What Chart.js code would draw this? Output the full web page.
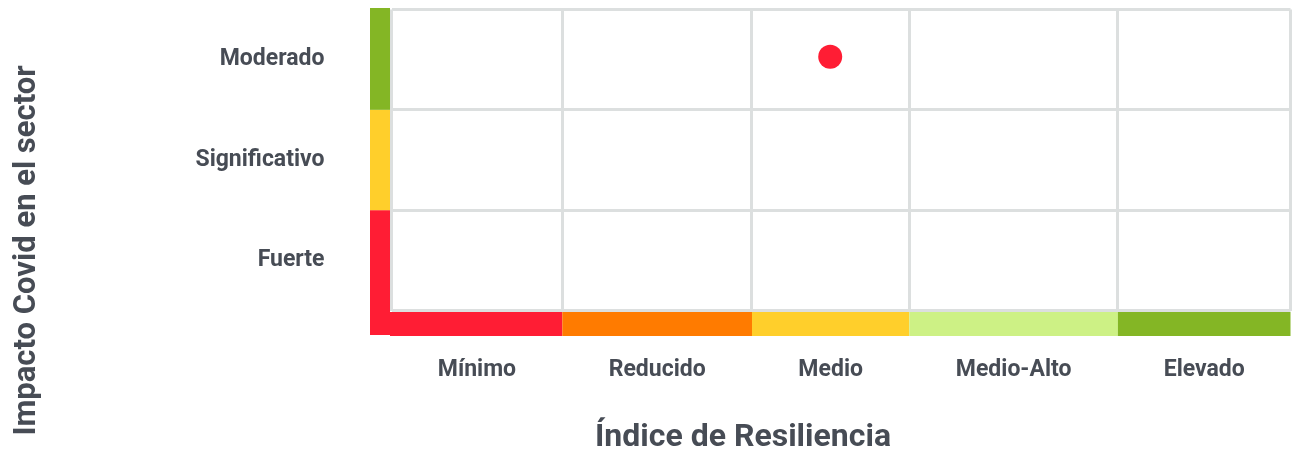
<!DOCTYPE html>
<html>
<head>
<meta charset="utf-8">
<script src="https://cdn.jsdelivr.net/npm/chart.js@4/dist/chart.umd.min.js"></script>
<style>
  html, body { margin: 0; padding: 0; background: #ffffff; }
  #wrap { width: 1295px; height: 459px; }
</style>
</head>
<body>
<div id="wrap"><canvas id="c" width="1295" height="459"></canvas></div>
<script>
// ---- data ----
const xCategories = ['Mínimo', 'Reducido', 'Medio', 'Medio-Alto', 'Elevado'];
const xEdges = [0, 19, 40.1, 57.6, 80.8, 100];
const xColors = ['#ff1d34', '#ff7b00', '#ffcf2b', '#cdf185', '#84b625'];
const yCategories = ['Fuerte', 'Significativo', 'Moderado'];
const yEdges = [0, 1, 2, 3];
const yColors = ['#ff1d34', '#ffcf2b', '#84b625'];
const pointX = [48.8];
const pointY = [2.53];
const xTitle = 'Índice de Resiliencia';
const yTitle = 'Impacto Covid en el sector';

const xCenters = xCategories.map((_, i) => (xEdges[i] + xEdges[i + 1]) / 2);
const yCenters = yCategories.map((_, i) => (yEdges[i] + yEdges[i + 1]) / 2);

const textColor = '#474c55';
const gridColor = '#dcdfdf';
const fam = 'Roboto, "Liberation Sans", sans-serif';

function noPad(s) { s.paddingTop = 0; s.paddingBottom = 0; s.paddingLeft = 0; s.paddingRight = 0; }

const bandsPlugin = {
  id: 'bands',
  beforeDraw(chart) {
    const { ctx, chartArea } = chart;
    const xs = chart.scales.x, ys = chart.scales.y;
    const barW = 20, barH = 24, half = 1.5;
    const barTop = chartArea.bottom + half;
    ctx.save();
    for (let i = 0; i < yCategories.length; i++) {
      let top = ys.getPixelForValue(yEdges[i + 1]);
      let bot = ys.getPixelForValue(yEdges[i]);
      if (i === yCategories.length - 1) top -= half;
      if (i === 0) bot = barTop + barH - 1;
      ctx.fillStyle = yColors[i];
      ctx.fillRect(chartArea.left - half - barW, top, barW, bot - top);
    }
    for (let i = 0; i < xCategories.length; i++) {
      let l = xs.getPixelForValue(xEdges[i]);
      let r = xs.getPixelForValue(xEdges[i + 1]);
      if (i === 0) l -= half;
      ctx.fillStyle = xColors[i];
      ctx.fillRect(l, barTop, r - l, barH);
    }
    ctx.restore();
  }
};

const titlesPlugin = {
  id: 'axisTitles',
  afterDraw(chart) {
    const { ctx } = chart;
    ctx.save();
    ctx.fillStyle = textColor;
    ctx.textAlign = 'center';
    ctx.textBaseline = 'alphabetic';
    ctx.font = 'bold 32px ' + fam;
    ctx.fillText(xTitle, 743, 446);
    ctx.translate(35, 250.5);
    ctx.rotate(-Math.PI / 2);
    ctx.font = 'bold 31px ' + fam;
    ctx.fillText(yTitle, 0, 0);
    ctx.restore();
  }
};

new Chart(document.getElementById('c'), {
  type: 'scatter',
  data: {
    datasets: [{
      data: pointX.map((x, i) => ({ x: x, y: pointY[i] })),
      backgroundColor: '#ff1d34',
      borderWidth: 0,
      pointRadius: 12,
      pointHoverRadius: 12,
      clip: false
    }]
  },
  options: {
    responsive: false,
    animation: false,
    events: [],
    layout: { autoPadding: false, padding: { top: 9.5, right: 4.5, bottom: 0, left: 0 } },
    plugins: { legend: { display: false }, tooltip: { enabled: false } },
    scales: {
      x: {
        type: 'linear', position: 'bottom', min: xEdges[0], max: xEdges[xEdges.length - 1],
        afterBuildTicks(s) { s.ticks = xEdges.map(v => ({ value: v })); },
        afterFit(s) { s.height = 0; noPad(s); },
        ticks: { display: false },
        grid: { color: gridColor, lineWidth: 3, drawTicks: false },
        border: { display: false }
      },
      xLabels: {
        type: 'linear', position: 'bottom', min: xEdges[0], max: xEdges[xEdges.length - 1],
        afterBuildTicks(s) { s.ticks = xCenters.map(v => ({ value: v })); },
        afterFit(s) { s.height = 148.5; noPad(s); },
        ticks: {
          autoSkip: false, maxRotation: 0, padding: 37.5, color: textColor,
          font: { family: fam, size: 23, weight: 'bold' },
          callback: (v, i) => xCategories[i]
        },
        grid: { display: false },
        border: { display: false }
      },
      y: {
        type: 'linear', position: 'left', min: yEdges[0], max: yEdges[yEdges.length - 1],
        afterBuildTicks(s) { s.ticks = yEdges.map(v => ({ value: v })); },
        afterFit(s) { s.width = 0; noPad(s); },
        ticks: { display: false },
        grid: { color: gridColor, lineWidth: 3, drawTicks: false },
        border: { display: false }
      },
      yLabels: {
        type: 'linear', position: 'left', min: yEdges[0], max: yEdges[yEdges.length - 1],
        afterBuildTicks(s) { s.ticks = yCenters.map(v => ({ value: v })); },
        afterFit(s) { s.width = 391.5; noPad(s); },
        ticks: {
          autoSkip: false, padding: 59, color: textColor,
          font: { family: fam, size: 23, weight: 'bold' },
          callback: (v, i) => yCategories[i]
        },
        grid: { display: false },
        border: { display: false }
      }
    }
  },
  plugins: [bandsPlugin, titlesPlugin]
});
</script>
</body>
</html>
